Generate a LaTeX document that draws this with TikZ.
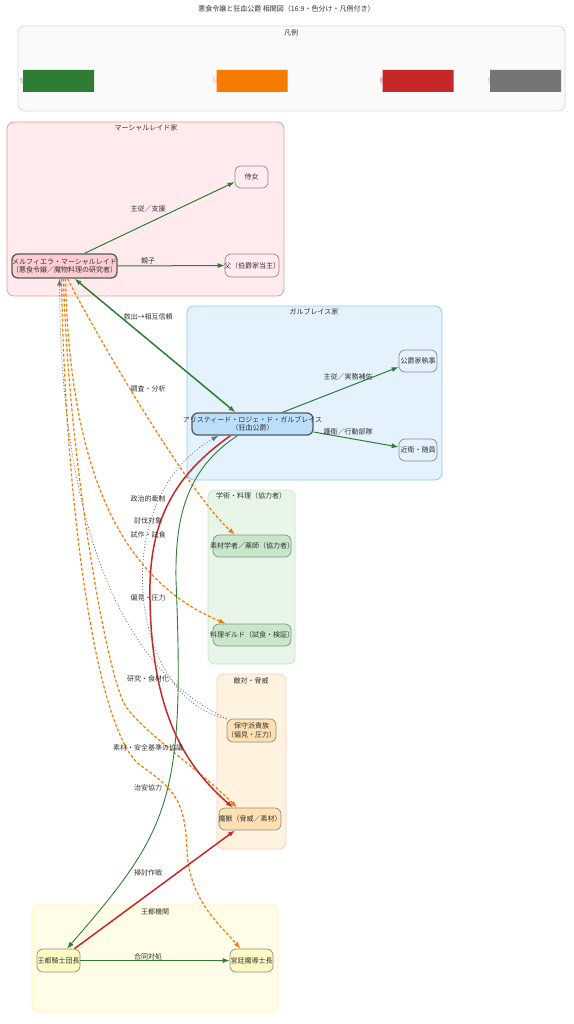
\documentclass[tikz,border=0pt]{standalone}
\usepackage{fontspec}
\newfontfamily\jp{Noto Sans CJK JP}
\usetikzlibrary{arrows.meta,shapes.misc,positioning}
\definecolor{relgreen}{HTML}{2E7D32}
\definecolor{relorange}{HTML}{F57C00}
\definecolor{relred}{HTML}{C62828}
\definecolor{relgray}{HTML}{757575}
\definecolor{marshallbg}{HTML}{FFEBEE}
\definecolor{marshallline}{HTML}{EF9A9A}
\definecolor{marshallkey}{HTML}{FFCDD2}
\definecolor{garbracebg}{HTML}{E3F2FD}
\definecolor{garbraceline}{HTML}{90CAF9}
\definecolor{garbracekey}{HTML}{BBDEFB}
\definecolor{academybg}{HTML}{E8F5E9}
\definecolor{academyline}{HTML}{C8E6C9}
\definecolor{enemybg}{HTML}{FFF3E0}
\definecolor{enemyline}{HTML}{FFCCBC}
\definecolor{enemynode}{HTML}{FFE0B2}
\definecolor{royalbg}{HTML}{FFFDE7}
\definecolor{royalline}{HTML}{FFF59D}
\definecolor{royalnode}{HTML}{FFF9C4}
\newcommand{\spill}[1]{\makebox[0pt]{#1}}

\begin{document}
\begin{tikzpicture}[x=1pt,y=-1pt,>={Latex[length=7pt,width=5pt]},
  every node/.style={font=\jp\fontsize{7}{8.6}\selectfont,text=black!80},
  group/.style={rounded corners=7pt,line width=0.8pt},
  person/.style={draw=black!45,rounded corners=6pt,line width=0.7pt,inner sep=0pt,align=center,minimum height=22pt},
  keyperson/.style={person,draw=black!65,line width=1.3pt},
  legendbox/.style={chamfered rectangle,chamfered rectangle corners=north east,chamfered rectangle xsep=4pt,chamfered rectangle ysep=4pt,inner sep=0pt,minimum width=71pt,minimum height=22pt},
  rel/.style={->,line width=1pt},
  strong/.style={rel,line width=1.5pt},
  study/.style={rel,relorange,line width=1.2pt,dash pattern=on 3pt off 2pt},
  hostile/.style={rel,relred,line width=1.5pt},
  pressure/.style={rel,relgray,line width=0.8pt,dash pattern=on 1pt off 2pt}]
\useasboundingbox (0,0) rectangle (573,1024);

\node (title) at (286.5,9) {悪食令嬢と狂血公爵 相関図（16:9・色分け・凡例付き）};

% legend
\draw[group,fill=black!2,draw=black!15] (18,26) rectangle (565,111);
\node (legendtitle) at (291,33) {凡例};
\node[anchor=west,text=relgreen!55] (lgtext) at (16,81) {協力・信頼};
\node[anchor=west,text=relorange!55] (lotext) at (209,81) {研究・調査};
\node[anchor=west,text=relred!55] (lrtext) at (376,81) {敵対・討伐};
\node[anchor=west,text=relgray!55] (lytext) at (484,81) {保守派の圧力};
\node[legendbox,fill=relgreen] (lgreen) at (58.5,81) {};
\node[legendbox,fill=relorange] (lorange) at (252,81) {};
\node[legendbox,fill=relred] (lred) at (418,81) {};
\node[legendbox,fill=relgray] (lgray) at (525.5,81) {};

% groups
\draw[group,fill=marshallbg,draw=marshallline] (7,122) rectangle (284,296);
\node (marshalltitle) at (146,128) {マーシャルレイド家};
\draw[group,fill=garbracebg,draw=garbraceline] (187,306) rectangle (442,480);
\node (garbracetitle) at (314,312) {ガルブレイス家};
\draw[group,fill=academybg,draw=academyline] (208,490) rectangle (295,664);
\node (academytitle) at (251,496) {学術・料理（協力者）};
\draw[group,fill=enemybg,draw=enemyline] (217,674) rectangle (286,849);
\node (enemytitle) at (251,681) {敵対・脅威};
\draw[group,fill=royalbg,draw=royalline] (32,905) rectangle (278,1012);
\node (royaltitle) at (155,912) {王都機関};

% people
\node[keyperson,fill=marshallkey,minimum width=105pt,minimum height=24pt] (meru) at (64.5,266)
  {\spill{メルフィエラ・マーシャルレイド}\\\spill{（悪食令嬢／魔物料理の研究者）}};
\node[person,fill=marshallbg,minimum width=33pt] (jijo) at (251.5,177) {\spill{侍女}};
\node[person,fill=marshallbg,minimum width=54pt,minimum height=23pt] (chichi) at (252,265.5) {\spill{父（伯爵家当主）}};
\node[keyperson,fill=garbracekey,minimum width=121pt] (aris) at (252.5,424)
  {\spill{アリスティード・ロジェ・ド・ガルブレイス}\\\spill{（狂血公爵）}};
\node[person,fill=garbracebg,minimum width=38pt] (shitsuji) at (418,361) {\spill{公爵家執事}};
\node[person,fill=garbracebg,minimum width=38pt] (konoe) at (418,450) {\spill{近衛・随員}};
\node[person,fill=academyline,minimum width=78pt] (sozai) at (252,546) {\spill{素材学者／薬師（協力者）}};
\node[person,fill=academyline,minimum width=78pt] (guild) at (252,635) {\spill{料理ギルド（試食・検証）}};
\node[person,fill=enemynode,minimum width=49pt,minimum height=23pt] (hoshu) at (251.5,730.5) {\spill{保守派貴族}\\\spill{（偏見・圧力）}};
\node[person,fill=enemynode,minimum width=62pt] (majuu) at (250,819) {\spill{魔獣（脅威／素材）}};
\node[person,fill=royalnode,minimum width=43pt,minimum height=23pt] (kishi) at (58.5,960.5) {\spill{王都騎士団長}};
\node[person,fill=royalnode,minimum width=43pt,minimum height=23pt] (madou) at (251.5,960.5) {\spill{宮廷魔導士長}};

% relations
\draw[rel,relgreen] ([xshift=20pt]meru.north) -- ([yshift=-5pt]jijo.west);
\draw[rel,relgreen] (meru.east) -- (chichi.west);
\draw[strong,relgreen,<->] ([xshift=10pt]meru.south) -- ([xshift=-17pt]aris.north);
\draw[rel,relgreen] ([xshift=30pt]aris.north) -- ([yshift=-6pt]shitsuji.west);
\draw[rel,relgreen] ([yshift=-8pt]aris.east) -- ([yshift=3pt]konoe.west);

\draw[study] ([xshift=3pt]meru.south) .. controls (99,340) and (190,495) .. ([xshift=-17pt]sozai.north);
\draw[study] ([xshift=1pt]meru.south) .. controls (70,470) and (120,580) .. ([xshift=-26pt]guild.north);
\draw[study] ([xshift=-1pt]meru.south) .. controls (68,450) and (105,670) .. (125,705)
  .. controls (140,730) and (200,770) .. ([xshift=-13pt]majuu.north);
\draw[study] ([xshift=-3pt]meru.south) .. controls (65,500) and (95,730) .. (140,765)
  .. controls (175,790) and (185,800) .. (187,850) .. controls (189,900) and (220,925) .. ([xshift=-11pt]madou.north);

\draw[hostile] ([xshift=-22pt]aris.south) .. controls (175,475) and (148,520) .. (150,600)
  .. controls (152,720) and (190,770) .. ([xshift=-17pt]majuu.north);
\draw[rel,relgreen,line width=0.9pt] ([xshift=-15pt]aris.south) .. controls (185,470) and (175,520) .. (176,580)
  .. controls (185,800) and (170,830) .. ([xshift=8.5pt]kishi.north);
\draw[pressure] (hoshu.north west) .. controls (80,650) and (60,420) .. ([xshift=-5pt]meru.south);
\draw[pressure] (hoshu.north west) .. controls (130,700) and (105,500) .. ([xshift=-34pt]aris.south);
\draw[hostile] ([xshift=16pt]kishi.north) -- ([xshift=-15pt]majuu.south);
\draw[rel,relgreen] (kishi.east) -- (madou.west);

% labels
\node (l-support) at (148,209) {主従／支援};
\node (l-parent) at (148,261) {親子};
\node (l-rescue) at (148,317) {救出→相互信頼};
\node (l-survey) at (148,389) {調査・分析};
\node (l-butler) at (348,377) {主従／実務補佐};
\node (l-guard) at (348,432) {護衛／行動部隊};
\node (l-politics) at (148,499) {政治的牽制};
\node (l-target) at (148,521) {討伐対象};
\node (l-tasting) at (148,535) {試作・試食};
\node (l-prejudice) at (148,598) {偏見・圧力};
\node (l-research) at (148,679) {研究・食材化};
\node (l-safety) at (148,748) {素材・安全基準の協議};
\node (l-order) at (148,788) {治安協力};
\node (l-sweep) at (148,873) {掃討作戦};
\node (l-joint) at (148,957) {合同対処};
\end{tikzpicture}
\end{document}
